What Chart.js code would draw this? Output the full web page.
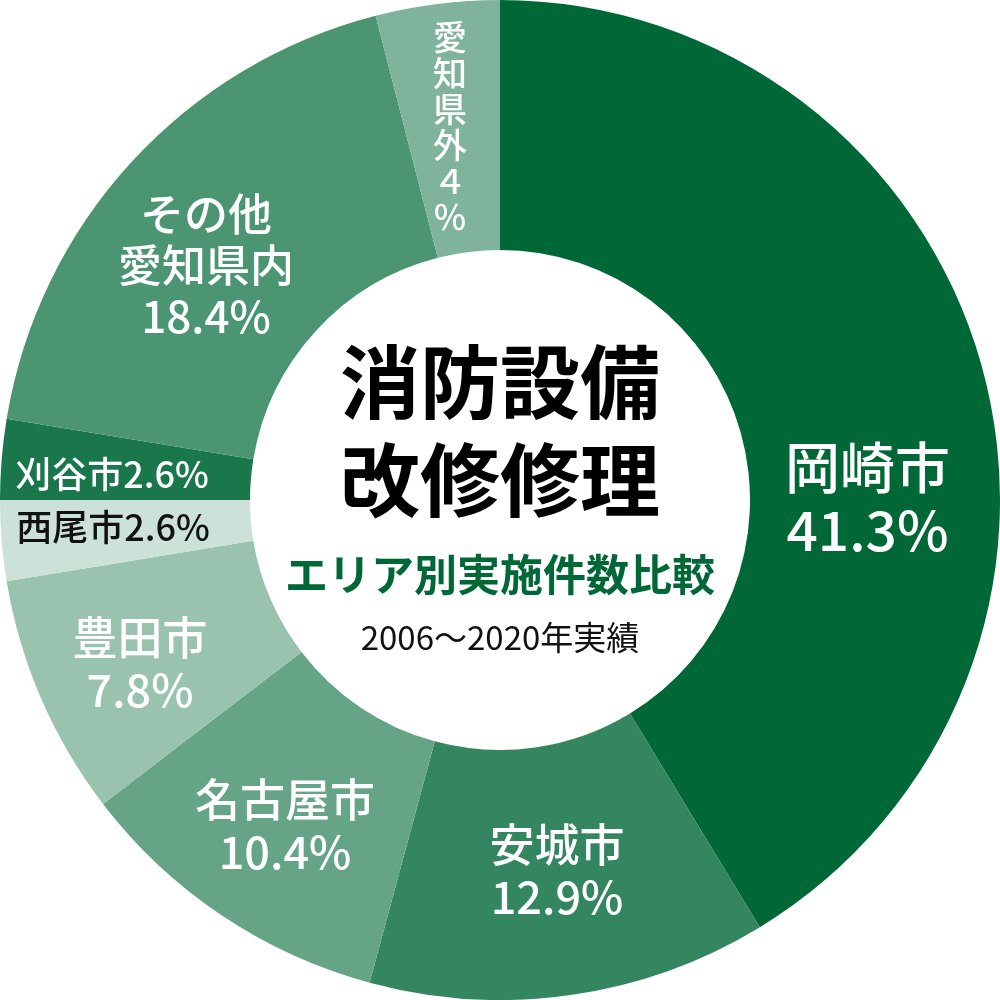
<!DOCTYPE html>
<html>
<head>
<meta charset="utf-8">
<script src="https://cdn.jsdelivr.net/npm/chart.js@4"></script>
<style>
  html, body { margin: 0; padding: 0; background: #fff; }
  #wrap { width: 1000px; height: 1000px; }
</style>
</head>
<body>
<div id="wrap"><canvas id="areaChart" width="1000" height="1000"></canvas></div>
<script>
// データ（2006〜2020年実績、エリア別の割合 %）
const categoryLines = [['岡崎市'], ['安城市'], ['名古屋市'], ['豊田市'], ['西尾市'], ['刈谷市'], ['その他', '愛知県内'], ['愛知県外']];
const categories = categoryLines.map(l => l.join(''));
const shares = [41.3, 12.9, 10.4, 7.8, 2.6, 2.6, 18.4, 4];
const sliceColors = ['#006837', '#33865f', '#66a487', '#99c3af', '#cce1d7', '#19774b', '#4c9573', '#7fb39b'];

const titleLines = ['消防設備', '改修修理'];
const subTitle = 'エリア別実施件数比較';
const periodText = '2006〜2020年実績';

// ラベルの置き場所（中心からの位置、外半径に対する割合）
const labelLayout = [
  { fx: 0.735, fy: -0.003, size: 55, mode: 'stack', color: '#fff' },
  { fx: 0.114, fy: 0.742, size: 45, mode: 'stack', color: '#fff' },
  { fx: -0.43, fy: 0.652, size: 45, mode: 'stack', color: '#fff' },
  { fx: -0.72, fy: 0.328, size: 45, mode: 'stack', color: '#fff' },
  { fx: -0.774, fy: 0.054, size: 36, mode: 'inline', color: '#111' },
  { fx: -0.776, fy: -0.052, size: 36, mode: 'inline', color: '#fff' },
  { fx: -0.588, fy: -0.47, size: 44, mode: 'stack', color: '#fff' },
  { fx: -0.1, fy: -0.746, size: 34, mode: 'vertical', color: '#fff' }
];

const FONT = '"Noto Sans CJK JP", "Noto Sans", sans-serif';

// 半角を全角に（縦書き用）
const toWide = s => s.replace(/[0-9%]/g, c => String.fromCharCode(c.charCodeAt(0) + 0xFEE0));

const labelPlugin = {
  id: 'labels',
  afterDraw(chart) {
    const ctx = chart.ctx;
    const arc = chart.getDatasetMeta(0).data[0];
    const cx = arc.x, cy = arc.y, R = arc.outerRadius;
    ctx.save();
    ctx.textAlign = 'center';
    ctx.textBaseline = 'middle';

    shares.forEach((v, i) => {
      const L = labelLayout[i];
      const x = cx + L.fx * R, y = cy + L.fy * R;
      ctx.fillStyle = L.color;
      ctx.font = '500 ' + L.size + 'px ' + FONT;
      if (L.mode === 'stack') {
        const lines = categoryLines[i].concat([v + '%']);
        const lh = L.size * 1.16;
        lines.forEach((t, k) => ctx.fillText(t, x, y + (k - (lines.length - 1) / 2) * lh));
      } else if (L.mode === 'inline') {
        ctx.fillText(categories[i] + v + '%', x, y);
      } else {
        const chars = [...toWide(categories[i] + v + '%')];
        const step = L.size * 1.06;
        chars.forEach((c, k) => ctx.fillText(c, x, y + (k - (chars.length - 1) / 2) * step));
      }
    });

    // 中央のタイトル
    ctx.fillStyle = '#000';
    ctx.font = 'bold 80px ' + FONT;
    ctx.fillText(titleLines[0], cx, cy - 0.236 * R);
    ctx.fillText(titleLines[1], cx, cy - 0.04 * R);
    ctx.fillStyle = '#006837';
    ctx.font = 'bold 43px ' + FONT;
    ctx.fillText(subTitle, cx, cy + 0.15 * R);
    ctx.fillStyle = '#111';
    ctx.font = '400 33px ' + FONT;
    ctx.fillText(periodText, cx, cy + 0.274 * R);
    ctx.restore();
  }
};

new Chart(document.getElementById('areaChart'), {
  type: 'doughnut',
  data: {
    labels: categories,
    datasets: [{
      data: shares,
      backgroundColor: sliceColors,
      borderWidth: 0
    }]
  },
  options: {
    responsive: false,
    animation: false,
    cutout: '50%',
    layout: { padding: 0 },
    plugins: {
      legend: { display: false },
      tooltip: { enabled: false }
    }
  },
  plugins: [labelPlugin]
});
</script>
</body>
</html>
